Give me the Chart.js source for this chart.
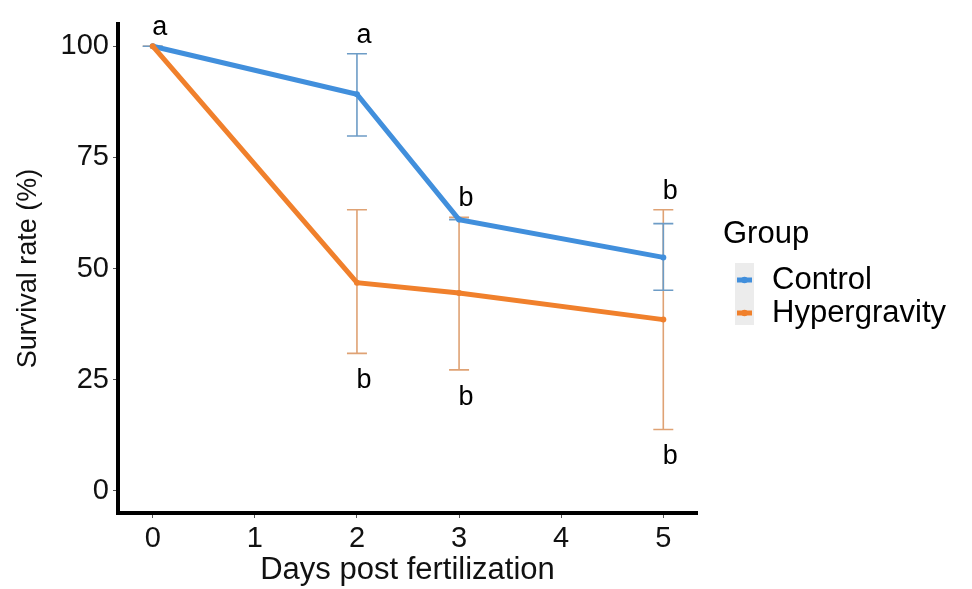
<!DOCTYPE html>
<html>
<head>
<meta charset="utf-8">
<script src="https://cdn.jsdelivr.net/npm/chart.js@4.4.1/dist/chart.umd.min.js"></script>
<style>
  body { margin: 0; background: #fff; }
  #wrap { width: 972px; height: 589px; position: relative; }
</style>
</head>
<body>
<div id="wrap"><canvas id="survivalChart"></canvas></div>
<script>
// values
const days = [0, 2, 3, 5];
const xTicks = [0, 1, 2, 3, 4, 5];
const yTicks = [0, 25, 50, 75, 100];

const controlMean = [100, 89.2, 61.0, 52.5];
const controlLow = [100, 79.8, 61.0, 45.1];
const controlHigh = [100, 98.3, 61.0, 60.1];

const hyperMean = [100, 46.8, 44.5, 38.5];
const hyperLow = [100, 30.9, 27.2, 13.8];
const hyperHigh = [100, 63.2, 61.5, 63.2];

const topLetters = ['a', 'a', 'b', 'b'];
const bottomLetters = ['', 'b', 'b', 'b'];

const FONT = '"Liberation Sans", Arial, Helvetica, sans-serif';
const blue = '#418fdc';
const orange = '#f0802c';

const errorBars = {
    id: 'errorBars',
    beforeDatasetsDraw(chart) {
        const ctx = chart.ctx;
        const xs = chart.scales.x, ys = chart.scales.y;
        const sets = [
            { low: hyperLow, high: hyperHigh, color: '#dfa274' },
            { low: controlLow, high: controlHigh, color: '#6d9cc6' }
        ];
        ctx.save();
        ctx.lineWidth = 1.6;
        sets.forEach(s => {
            ctx.strokeStyle = s.color;
            days.forEach((d, i) => {
                const x = xs.getPixelForValue(d);
                const yl = ys.getPixelForValue(s.low[i]);
                const yh = ys.getPixelForValue(s.high[i]);
                ctx.beginPath();
                ctx.moveTo(x, yl); ctx.lineTo(x, yh);
                ctx.moveTo(x - 10, yl); ctx.lineTo(x + 10, yl);
                ctx.moveTo(x - 10, yh); ctx.lineTo(x + 10, yh);
                ctx.stroke();
            });
        });
        ctx.restore();
    },
    afterDraw(chart) {
        const ctx = chart.ctx;
        const xs = chart.scales.x, ys = chart.scales.y;
        ctx.save();
        ctx.fillStyle = '#000';
        ctx.font = '27px ' + FONT;
        ctx.textAlign = 'center';
        ctx.textBaseline = 'alphabetic';
        days.forEach((d, i) => {
            const x = xs.getPixelForValue(d) + 7;
            const top = Math.max(controlHigh[i], hyperHigh[i]);
            const low = Math.min(controlLow[i], hyperLow[i]);
            ctx.fillText(topLetters[i], x, ys.getPixelForValue(top) - 11);
            if (bottomLetters[i]) ctx.fillText(bottomLetters[i], x, ys.getPixelForValue(low) + 35);
        });

        // legend
        ctx.textAlign = 'left';
        ctx.textBaseline = 'middle';
        ctx.font = '31px ' + FONT;
        ctx.fillText('Group', 723, 234);
        ctx.fillStyle = '#ececec';
        ctx.fillRect(735, 263, 19, 62);
        const items = [
            { label: 'Control', color: blue, y: 280 },
            { label: 'Hypergravity', color: orange, y: 313 }
        ];
        items.forEach(it => {
            ctx.strokeStyle = it.color;
            ctx.lineWidth = 5;
            ctx.beginPath();
            ctx.moveTo(737, it.y); ctx.lineTo(752, it.y);
            ctx.stroke();
            ctx.fillStyle = it.color;
            ctx.beginPath();
            ctx.arc(744.5, it.y, 3.2, 0, Math.PI * 2);
            ctx.fill();
            ctx.fillStyle = '#000';
            ctx.fillText(it.label, 772, it.y);
        });
        ctx.restore();
    }
};

const ctx = document.getElementById('survivalChart').getContext('2d');
const survivalChart = new Chart(ctx, {
    type: 'line',
    data: {
        datasets: [
            {
                label: 'Control',
                data: days.map((d, i) => ({ x: d, y: controlMean[i] })),
                borderColor: blue,
                backgroundColor: blue,
                borderWidth: 5,
                pointRadius: 3,
                pointBorderWidth: 0,
                fill: false,
                tension: 0,
                order: 2
            },
            {
                label: 'Hypergravity',
                data: days.map((d, i) => ({ x: d, y: hyperMean[i] })),
                borderColor: orange,
                backgroundColor: orange,
                borderWidth: 5,
                pointRadius: 3,
                pointBorderWidth: 0,
                fill: false,
                tension: 0,
                order: 1
            }
        ]
    },
    options: {
        responsive: true,
        maintainAspectRatio: false,
        animation: false,
        layout: {
            padding: { top: 24, right: 275, left: 0, bottom: 0 }
        },
        plugins: {
            legend: { display: false },
            tooltip: { enabled: false }
        },
        scales: {
            x: {
                type: 'linear',
                min: -0.34,
                max: 5.33,
                afterBuildTicks: scale => { scale.ticks = xTicks.map(v => ({ value: v })); },
                afterFit: scale => { scale.height = 76; },
                grid: { drawOnChartArea: false, drawTicks: true, tickLength: 5, color: '#555', lineWidth: 1 },
                border: { display: true, color: '#000', width: 4 },
                ticks: { padding: 4, color: '#111', font: { family: FONT, size: 29 }, maxRotation: 0 },
                title: {
                    display: true,
                    text: 'Days post fertilization',
                    color: '#111',
                    font: { family: FONT, size: 31 },
                    padding: { top: 0, bottom: 0 }
                }
            },
            y: {
                min: -5,
                max: 105,
                afterBuildTicks: scale => { scale.ticks = yTicks.map(v => ({ value: v })); },
                afterFit: scale => { scale.width = 118; },
                grid: { drawOnChartArea: false, drawTicks: true, tickLength: 5, color: '#555', lineWidth: 1 },
                border: { display: true, color: '#000', width: 4 },
                ticks: { padding: 4, color: '#111', font: { family: FONT, size: 29 } },
                title: {
                    display: true,
                    text: 'Survival rate (%)',
                    color: '#111',
                    font: { family: FONT, size: 27 },
                    padding: { top: 12, bottom: 0 }
                }
            }
        }
    },
    plugins: [errorBars]
});
</script>
</body>
</html>
